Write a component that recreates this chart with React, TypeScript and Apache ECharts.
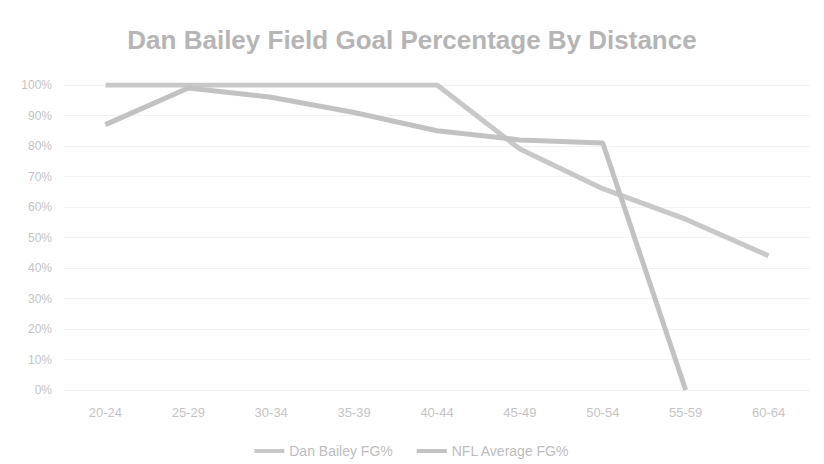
import * as echarts from 'echarts';
import { useEffect, useRef } from 'react';

const distances = ['20-24', '25-29', '30-34', '35-39', '40-44', '45-49', '50-54', '55-59', '60-64'];
const yTicks = ['0%', '10%', '20%', '30%', '40%', '50%', '60%', '70%', '80%', '90%', '100%'];
const seriesNames = ['Dan Bailey FG%', 'NFL Average FG%'];
const baileyPct = [100, 100, 100, 100, 100, 79, 66, 56, 44];
const leaguePct = [87, 99, 96, 91, 85, 82, 81, 0, null];

function buildOption() {
  return {
    animation: false,
    title: {
      text: 'Dan Bailey Field Goal Percentage By Distance',
      left: 'center',
      top: 14,
      textStyle: { color: '#b5b5b5', fontSize: 26, fontWeight: 'bold', fontFamily: 'Liberation Sans' },
    },
    legend: {
      bottom: 1,
      left: 'center',
      itemWidth: 30,
      itemGap: 24,
      icon: 'rect',
      itemHeight: 4,
      textStyle: { color: '#bdbdbd', fontSize: 14, fontFamily: 'Liberation Sans' },
      data: seriesNames,
    },
    grid: { left: 56, right: 6, top: 77, bottom: 74 },
    xAxis: {
      type: 'category',
      data: distances,
      axisLine: { show: false },
      axisTick: { show: false },
      axisLabel: { color: '#c4c4c4', fontSize: 13, margin: 16, fontFamily: 'Liberation Sans' },
    },
    yAxis: {
      type: 'value',
      min: 0,
      max: 100,
      interval: 10,
      axisLabel: {
        color: '#c4c4c4',
        fontSize: 12,
        margin: 12,
        fontFamily: 'Liberation Sans',
        formatter: (value: number) => yTicks[Math.round(value / 10)],
      },
      splitLine: { lineStyle: { color: '#f2f2f2' } },
    },
    series: [
      {
        name: seriesNames[0],
        type: 'line',
        data: baileyPct,
        showSymbol: false,
        lineStyle: { color: '#c8c8c8', width: 5 },
        itemStyle: { color: '#c8c8c8' },
      },
      {
        name: seriesNames[1],
        type: 'line',
        data: leaguePct,
        showSymbol: false,
        lineStyle: { color: '#c2c2c2', width: 5 },
        itemStyle: { color: '#c2c2c2' },
      },
    ],
  };
}

export default function App() {
  const ref = useRef<HTMLDivElement | null>(null);

  useEffect(() => {
    if (!ref.current) return;
    const chart = echarts.init(ref.current, undefined, { renderer: 'svg' });
    chart.setOption(buildOption());
    return () => chart.dispose();
  }, []);

  return <div ref={ref} style={{ width: 808, height: 456 }} />;
}
